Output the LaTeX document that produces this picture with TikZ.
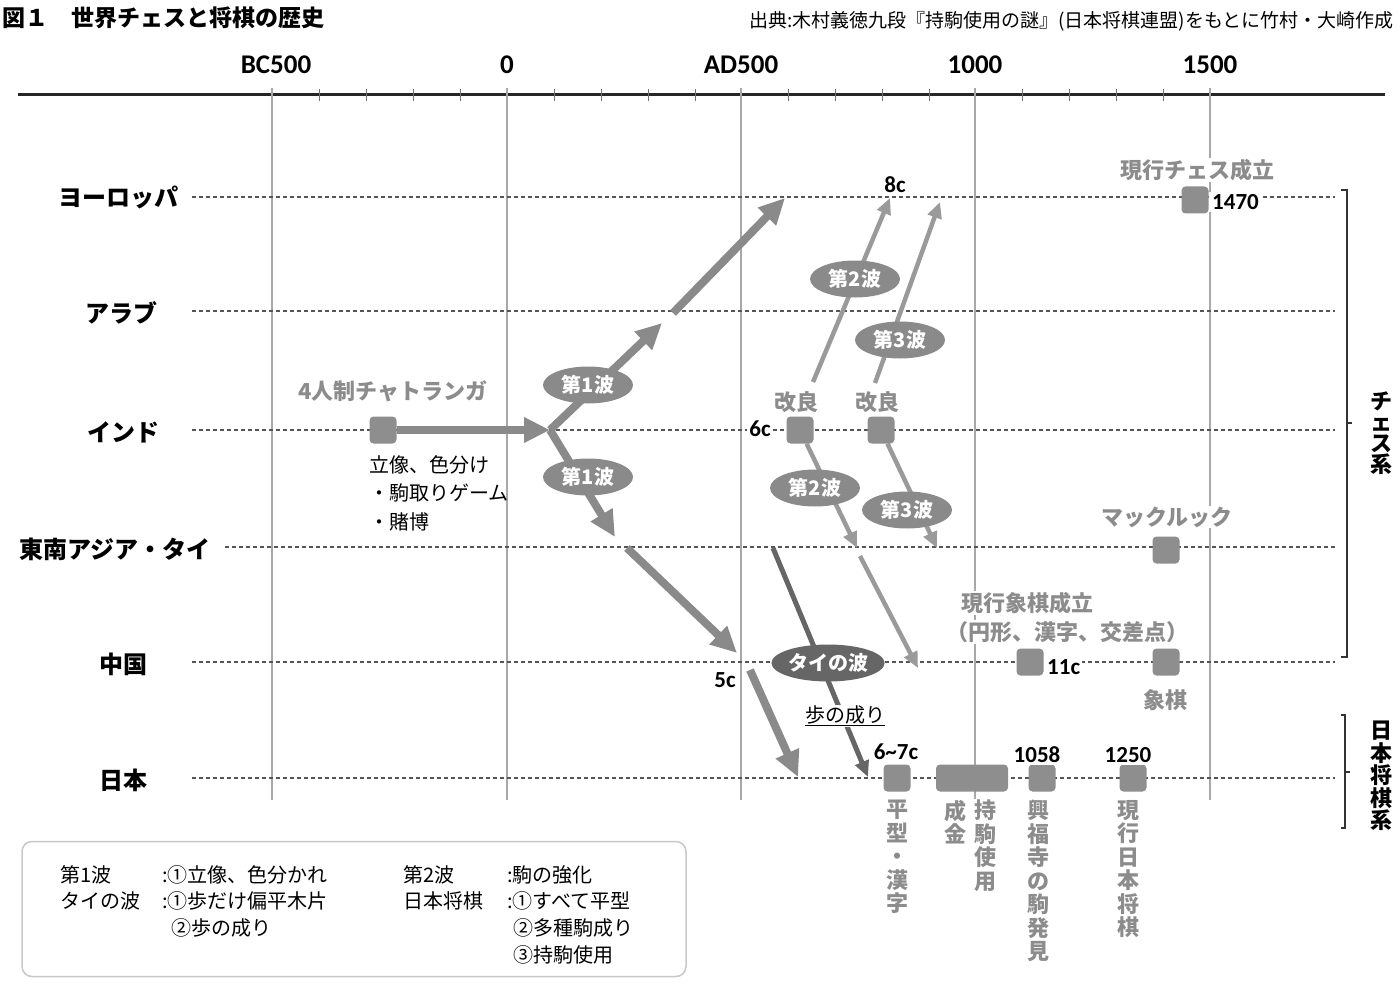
\documentclass[tikz,border=0pt]{standalone}
\usepackage{fontspec}
\setmainfont{Noto Sans CJK JP}
\newfontfamily\cbfont{Carlito}
\usetikzlibrary{arrows.meta,shapes.geometric}
\definecolor{sqgray}{HTML}{8E8E8E}
\definecolor{arrgray}{HTML}{8A8A8A}
\definecolor{wavegray}{HTML}{9A9A9A}
\definecolor{thaigray}{HTML}{666666}
\definecolor{labgray}{HTML}{8C8C8C}
\definecolor{gridgray}{HTML}{A8A8A8}
\definecolor{dashgray}{HTML}{555555}
\definecolor{boxgray}{HTML}{C8C8C8}
\newcommand\fsz[1]{\fontsize{#1}{#1}\selectfont}
\tikzset{
  rowlab/.style={font=\bfseries\fsz{24}, text=black},
  yearlab/.style={font=\cbfont\bfseries\fsz{27}},
  sq/.style={fill=sqgray, rounded corners=4pt, minimum size=27pt, inner sep=0pt},
  wave/.style={ellipse, fill=arrgray, text=white, font=\bfseries\fsz{20}, minimum width=90pt, minimum height=37pt, inner sep=0pt},
  thaiwave/.style={wave, fill=thaigray, minimum width=100pt},
  glab/.style={text=labgray, font=\bfseries\fsz{22}, fill=white, inner sep=1pt},
  nlab/.style={font=\cbfont\bfseries\fsz{23}, fill=white, inner sep=2pt},
  blab/.style={font=\fsz{20}, inner sep=0pt},
  vlab/.style={text=labgray, fill=white, inner sep=1pt, align=center, anchor=north, font=\bfseries\fontsize{22}{23.5}\selectfont},
  bigarr/.style={draw=arrgray, line width=8pt, -{Triangle[length=26pt,width=24pt]}},
  midarr/.style={draw=wavegray, line width=4.5pt, -{Triangle[length=16pt,width=14pt]}},
  thaiarr/.style={draw=thaigray, line width=5pt, -{Triangle[length=16pt,width=14pt]}},
  rowline/.style={draw=dashgray, line width=1.1pt, dash pattern=on 4pt off 3pt},
  gridline/.style={draw=gridgray, line width=1.3pt},
  bracketline/.style={draw=black!80, line width=1.4pt},
  legtext/.style={font=\fsz{20}, anchor=west, inner sep=0pt},
}
\begin{document}
\begin{tikzpicture}[x=1pt,y=-1pt]
\useasboundingbox (0,0) rectangle (1400,987);
% title and source
\node[anchor=west, font=\bfseries\fsz{23}, inner sep=0pt] (title) at (2,18) {図１　世界チェスと将棋の歴史};
\node[anchor=east, font=\fsz{19}, inner sep=0pt] (src) at (1394,21) {出典:木村義徳九段『持駒使用の謎』(日本将棋連盟)をもとに竹村・大崎作成};
% axis
\draw[line width=3pt, draw=black!85] (18,95) -- (1385,95);
\foreach \x in {272,507,741,975,1210} \draw[gridline] (\x,88) -- (\x,800);
\foreach \x in {319,366,413,460,554,601,648,695,788,835,882,929,1022,1069,1116,1163}
  \draw[draw=black!55, line width=1pt] (\x,89) -- (\x,101);
\node[yearlab] (yBC) at (276,65) {BC500};
\node[yearlab] (y0) at (507,65) {0};
\node[yearlab] (yAD) at (741,65) {AD500};
\node[yearlab] (y1000) at (975,65) {1000};
\node[yearlab] (y1500) at (1210,65) {1500};
% rows
\draw[rowline] (192,197) -- (1335,197);
\draw[rowline] (192,311) -- (1335,311);
\draw[rowline] (192,430) -- (1335,430);
\draw[rowline] (225,547) -- (1335,547);
\draw[rowline] (192,662) -- (1335,662);
\draw[rowline] (192,778) -- (1335,778);
\node[rowlab] (leu) at (118,197) {ヨーロッパ};
\node[rowlab] (lar) at (121,313) {アラブ};
\node[rowlab] (lin) at (123,432) {インド};
\node[rowlab] (lse) at (115,549) {東南アジア・タイ};
\node[rowlab] (lcn) at (123,664) {中国};
\node[rowlab] (ljp) at (123,780) {日本};
% brackets
\draw[bracketline] (1341,190) -- (1347,190) -- (1347,657) -- (1341,657);
\draw[bracketline] (1347,423) -- (1352,423);
\draw[bracketline] (1341,715) -- (1345,715) -- (1345,828) -- (1341,828);
\draw[bracketline] (1345,772) -- (1350,772);
\node[font=\bfseries\fontsize{22}{21}\selectfont, align=center] (chesssys) at (1381,433) {チ\\ェ\\ス\\系};
\node[font=\bfseries\fontsize{22}{22.5}\selectfont, align=center] (jpsys) at (1381,776) {日\\本\\将\\棋\\系};
% chaturanga
\node[sq] (chat) at (383,430) {};
\node[glab] (chatl) at (393,391) {4人制チャトランガ};
\node[blab, anchor=north west, align=left, font=\fontsize{20}{28.5}\selectfont] (notes) at (369,455) {立像、色分け\\・駒取りゲーム\\・賭博};
% first wave
\coordinate (br) at (550,430);
\coordinate (arT) at (662,323);
\coordinate (arB) at (673,313);
\coordinate (euT) at (785,198);
\coordinate (seT) at (615,537);
\coordinate (seB) at (627,548);
\coordinate (cnT) at (737,653);
\coordinate (cnB) at (750,670);
\coordinate (jpT) at (798,777);
\draw[bigarr] (chat.east) -- (br);
\draw[bigarr] (br) -- (arT);
\draw[bigarr] (arB) -- (euT);
\draw[bigarr] (br) -- (seT);
\draw[bigarr] (seB) -- (cnT);
\draw[bigarr] (cnB) -- (jpT);
\node[wave] (w1a) at (588,385) {第1波};
\node[wave] (w1b) at (588,477) {第1波};
\node[nlab] (c5) at (725,680) {5c};
% improvements
\node[sq] (k1) at (800,430) {};
\node[sq] (k2) at (881,430) {};
\node[nlab] (c6) at (760,429) {6c};
\coordinate (k1u) at (813,382);
\coordinate (eu2) at (890,198);
\coordinate (k2u) at (875,383);
\coordinate (eu3) at (940,202);
\coordinate (se2) at (857,548);
\coordinate (se2b) at (860,556);
\coordinate (cn2) at (918,668);
\coordinate (se3) at (937,548);
\draw[midarr] (k1u) -- (eu2);
\draw[midarr] (k2u) -- (eu3);
\draw[midarr] (k1) -- (se2);
\draw[midarr] (se2b) -- (cn2);
\draw[midarr] (k2) -- (se3);
\node[glab] (k1l) at (796,402) {改良};
\node[glab] (k2l) at (877,402) {改良};
\node[font=\cbfont\bfseries\fsz{23}, inner sep=1pt] (c8) at (895,185) {8c};
\node[wave] (w2a) at (855,279) {第2波};
\node[wave] (w3a) at (900,340) {第3波};
\node[wave] (w2b) at (815,488) {第2波};
\node[wave] (w3b) at (907,510) {第3波};
% thai wave
\coordinate (thS) at (773,548);
\coordinate (thT) at (868,777);
\draw[thaiarr] (thS) -- (thT);
\node[thaiwave] (thw) at (828,663) {タイの波};
\node[blab, fill=white, inner sep=1pt] (fu) at (845,716) {\underline{歩の成り}};
% europe
\node[glab] (chessl) at (1197,170) {現行チェス成立};
\node[sq] (eu1470) at (1195,200) {};
\node[nlab, anchor=west, inner xsep=3pt] (n1470) at (1209,202) {1470\hspace{14pt}};
% SE Asia
\node[glab] (makl) at (1167,517) {マックルック};
\node[sq] (mak) at (1166,550) {};
% China
\node[glab] (xql1) at (1027,603) {現行象棋成立};
\node[glab] (xql2) at (1067,632) {（円形、漢字、交差点）};
\node[sq] (xq11) at (1030,662) {};
\node[nlab, anchor=west] (c11) at (1045,667) {11c\hspace{12pt}};
\node[sq] (xq) at (1166,662) {};
\node[glab] (xqlab) at (1165,700) {象棋};
% Japan
\node[sq] (j67) at (897,778) {};
\node[nlab] (n67) at (896,752) {6\textasciitilde7c};
\node[sq, minimum width=72pt] (jmid) at (972,778) {};
\node[sq] (j1058) at (1042,778) {};
\node[nlab] (n1058) at (1037,755) {1058};
\node[sq] (j1250) at (1133,778) {};
\node[nlab] (n1250) at (1128,755) {1250};
\node[vlab] (v1) at (897,799) {平\\型\\・\\漢\\字};
\node[vlab] (v2) at (955,799) {成\\金};
\node[vlab] (v3) at (985,799) {持\\駒\\使\\用};
\node[vlab] (v4) at (1038,799) {興\\福\\寺\\の\\駒\\発\\見};
\node[vlab] (v5) at (1128,799) {現\\行\\日\\本\\将\\棋};
% legend
\node[draw=boxgray, line width=1.5pt, rounded corners=10pt, minimum width=664pt, minimum height=135pt, inner sep=0pt] (legend) at (354,909) {};
\node[legtext] (lg1) at (60,875) {第1波};
\node[legtext] (lg2) at (162,875) {:①立像、色分かれ};
\node[legtext] (lg3) at (403,875) {第2波};
\node[legtext] (lg4) at (507,875) {:駒の強化};
\node[legtext] (lg5) at (60,901) {タイの波};
\node[legtext] (lg6) at (162,901) {:①歩だけ偏平木片};
\node[legtext] (lg7) at (403,901) {日本将棋};
\node[legtext] (lg8) at (507,901) {:①すべて平型};
\node[legtext] (lg9) at (171,928) {②歩の成り};
\node[legtext] (lg10) at (513,928) {②多種駒成り};
\node[legtext] (lg11) at (513,955) {③持駒使用};
\end{tikzpicture}
\end{document}
